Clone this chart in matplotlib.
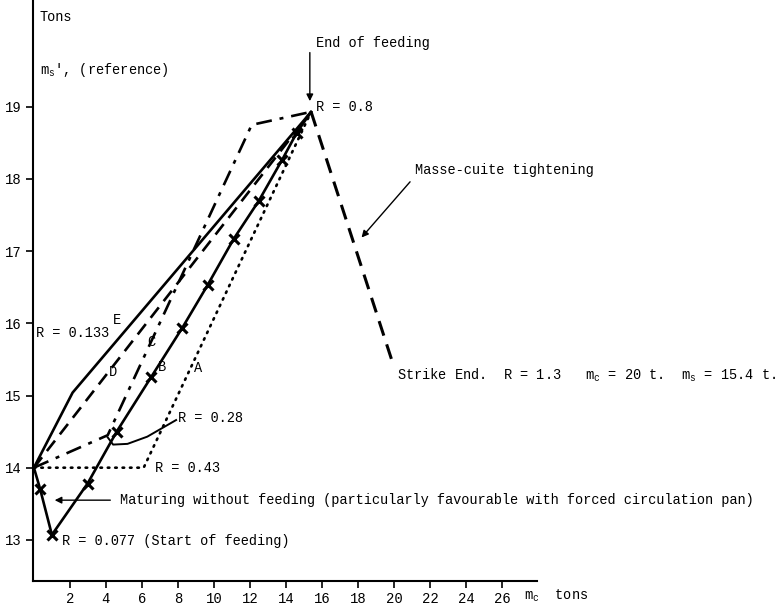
import matplotlib.pyplot as plt

plt.rcParams['font.family'] = ['Liberation Mono', 'DejaVu Sans Mono']
plt.rcParams['mathtext.fontset'] = 'custom'
plt.rcParams['mathtext.rm'] = 'Liberation Mono'
plt.rcParams['mathtext.it'] = 'Liberation Mono'

# curves (m_c tons, m_s tons)
e_x = [0, 2.15, 15.4]
e_y = [14.0, 15.04, 18.93]

d_x = [0, 15.4]
d_y = [14.0, 18.93]

c_x = [0, 4.1, 12.1, 15.4]
c_y = [14.0, 14.45, 18.75, 18.93]

r28_x = [4.1, 4.4, 5.2, 6.3, 7.9]
r28_y = [14.42, 14.32, 14.33, 14.43, 14.66]

b_x = [0, 0.34, 1.0, 2.98, 4.6, 6.5, 8.25, 9.65, 11.1, 12.5, 13.8, 14.6, 15.4]
b_y = [14.0, 13.71, 13.07, 13.78, 14.5, 15.25, 15.94, 16.53, 17.17, 17.7, 18.27, 18.64, 18.93]

a_x = [0, 6.1, 15.4]
a_y = [14.0, 14.0, 18.93]

tight_x = [15.4, 20.0]
tight_y = [18.93, 15.4]

x_ticks = [2, 4, 6, 8, 10, 12, 14, 16, 18, 20, 22, 24, 26]
y_ticks = [13, 14, 15, 16, 17, 18, 19]

fig = plt.figure(figsize=(7.82, 6.08), dpi=100)
ax = fig.add_axes([33 / 782, 27 / 608, 504 / 782, 581 / 608])

lw = 1.9
ax.plot(e_x, e_y, color='black', lw=lw, solid_capstyle='butt')
ax.plot(d_x, d_y, color='black', lw=lw, dashes=(5, 3))
ax.plot(c_x, c_y, color='black', lw=lw, dashes=(6, 3, 1.5, 3))
ax.plot(r28_x, r28_y, color='black', lw=1.4)
ax.plot(b_x, b_y, color='black', lw=lw)
ax.plot(b_x[1:-1], b_y[1:-1], ls='none', marker='x', ms=7, mew=2.2, color='black')
ax.plot(a_x, a_y, color='black', lw=lw, ls=(0, (0.6, 2.2)), dash_capstyle='round')
ax.plot(tight_x, tight_y, color='black', lw=2.2, dashes=(5, 3))

ax.set_xlim(-0.05, 27.95)
ax.set_ylim(12.43, 20.48)
ax.set_xticks(x_ticks)
ax.set_yticks(y_ticks)
ax.tick_params(labelsize=10, length=5, width=1.2, direction='out', pad=3)
for s in ['top', 'right']:
    ax.spines[s].set_visible(False)
for s in ['left', 'bottom']:
    ax.spines[s].set_linewidth(1.5)

fs = 9.8
ax.text(0.33, 20.25, 'Tons', fontsize=fs, va='center')
ax.text(0.33, 19.51, "m$_{s}$', (reference)", fontsize=fs, va='center')
ax.text(15.67, 19.89, 'End of feeding', fontsize=fs, va='center')
ax.annotate('', xy=(15.33, 19.04), xytext=(15.33, 19.79),
            arrowprops=dict(arrowstyle='-|>', color='black', lw=1, mutation_scale=10))
ax.text(15.67, 19.0, 'R = 0.8', fontsize=fs, va='center')
ax.text(21.2, 18.13, 'Masse-cuite tightening', fontsize=fs, va='center')
ax.annotate('', xy=(18.1, 17.16), xytext=(21.0, 17.99),
            arrowprops=dict(arrowstyle='-|>', color='black', lw=1, mutation_scale=10))
ax.text(20.2, 15.28, 'Strike End.  R = 1.3   m$_c$ = 20 t.  m$_s$ = 15.4 t.',
        fontsize=fs, va='center')
ax.text(4.6, 16.05, 'E', fontsize=fs, va='center', ha='center')
ax.text(0.1, 15.87, 'R = 0.133', fontsize=fs, va='center')
ax.text(4.4, 15.33, 'D', fontsize=fs, va='center', ha='center')
ax.text(6.55, 15.74, 'C', fontsize=fs, va='center', ha='center')
ax.text(7.1, 15.4, 'B', fontsize=fs, va='center', ha='center')
ax.text(9.1, 15.38, 'A', fontsize=fs, va='center', ha='center')
ax.text(8.0, 14.69, 'R = 0.28', fontsize=fs, va='center')
ax.text(6.72, 14.0, 'R = 0.43', fontsize=fs, va='center')
ax.text(4.8, 13.55, 'Maturing without feeding (particularly favourable with forced circulation pan)',
        fontsize=fs, va='center')
ax.annotate('', xy=(1.0, 13.55), xytext=(4.4, 13.55),
            arrowprops=dict(arrowstyle='-|>', color='black', lw=1, mutation_scale=10))
ax.text(1.55, 12.99, 'R = 0.077 (Start of feeding)', fontsize=fs, va='center')
ax.text(27.2, 12.22, 'm$_c$  tons', fontsize=fs, va='center', clip_on=False)

fig.savefig('out.png', dpi=100)
